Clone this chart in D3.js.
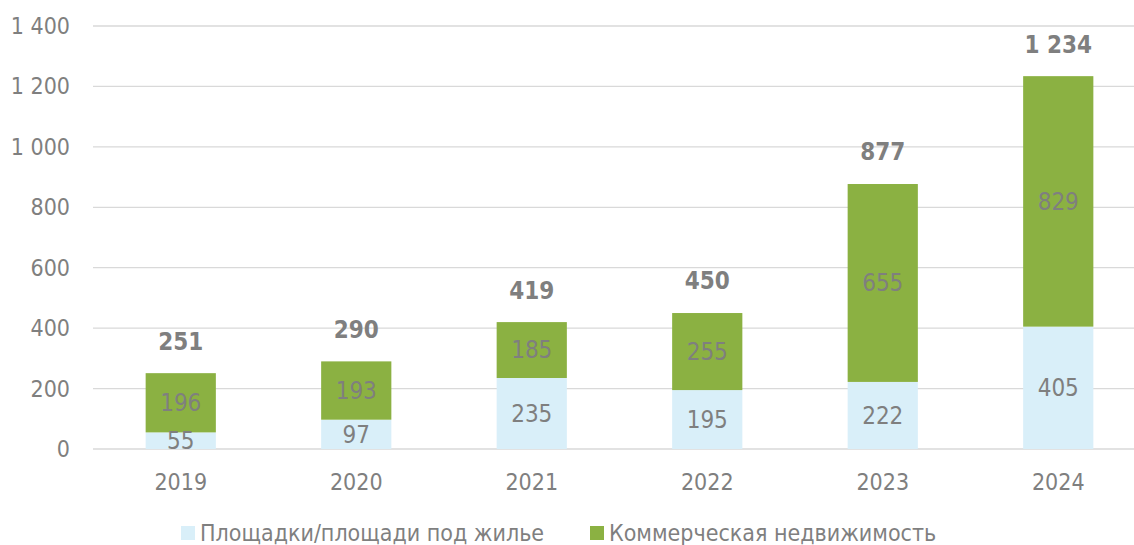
<!DOCTYPE html>
<html>
<head>
<meta charset="utf-8">
<script src="https://cdn.jsdelivr.net/npm/d3@7"></script>
<style>
  html, body { margin: 0; padding: 0; background: #ffffff; }
  svg text { font-family: "DejaVu Sans Condensed", "DejaVu Sans", sans-serif; font-stretch: condensed; }
</style>
</head>
<body>
<svg id="chart" width="1134" height="545"></svg>
<script>
const years = ["2019", "2020", "2021", "2022", "2023", "2024"];
const housing = [55, 97, 235, 195, 222, 405];
const commercial = [196, 193, 185, 255, 655, 829];
const totals = [251, 290, 419, 450, 877, 1234];
const yTicks = [0, 200, 400, 600, 800, 1000, 1200, 1400];
const seriesNames = ["Площадки/площади под жилье", "Коммерческая недвижимость"];
const seriesColors = ["#d9eff9", "#8bb142"];

const svg = d3.select("#chart");
const fmt = v => d3.format(",")(v).replace(/,/g, " ");
const textColor = "#7f7f7f";

const x = d3.scaleBand().domain(years).range([93, 1146]).paddingInner(0.6).paddingOuter(0.3);
const y = d3.scaleLinear().domain([0, 1400]).range([449, 26]);

// gridlines
svg.append("g").selectAll("line").data(yTicks).join("line")
  .attr("x1", 93).attr("x2", 1134)
  .attr("y1", d => y(d)).attr("y2", d => y(d))
  .attr("stroke", "#d9d9d9").attr("stroke-width", 1.3);

// y tick labels
svg.append("g").selectAll("text").data(yTicks).join("text")
  .attr("x", 70).attr("y", d => y(d)).attr("dy", "0.35em")
  .attr("text-anchor", "end").attr("fill", textColor).attr("font-size", 23)
  .text(d => fmt(d));

const stacked = years.map((yr, i) => ({ yr, h: housing[i], c: commercial[i], t: totals[i] }));

// housing segment
svg.append("g").selectAll("rect").data(stacked).join("rect")
  .attr("x", d => x(d.yr)).attr("width", x.bandwidth())
  .attr("y", d => y(d.h)).attr("height", d => y(0) - y(d.h))
  .attr("fill", seriesColors[0]);

// commercial segment
svg.append("g").selectAll("rect").data(stacked).join("rect")
  .attr("x", d => x(d.yr)).attr("width", x.bandwidth())
  .attr("y", d => y(d.h + d.c)).attr("height", d => y(d.h) - y(d.h + d.c))
  .attr("fill", seriesColors[1]);

// segment value labels
const cx = d => x(d.yr) + x.bandwidth() / 2;
svg.append("g").selectAll("text").data(stacked).join("text")
  .attr("x", cx).attr("y", d => (y(0) + y(d.h)) / 2).attr("dy", "0.35em")
  .attr("text-anchor", "middle").attr("fill", textColor).attr("font-size", 24)
  .text(d => d.h);
svg.append("g").selectAll("text").data(stacked).join("text")
  .attr("x", cx).attr("y", d => (y(d.h) + y(d.h + d.c)) / 2).attr("dy", "0.35em")
  .attr("text-anchor", "middle").attr("fill", textColor).attr("font-size", 24)
  .text(d => d.c);

// totals above bars
svg.append("g").selectAll("text").data(stacked).join("text")
  .attr("x", cx).attr("y", d => y(d.t) - 32).attr("dy", "0.35em")
  .attr("text-anchor", "middle").attr("fill", textColor).attr("font-size", 24)
  .attr("font-weight", "bold")
  .text(d => fmt(d.t));

// category labels
svg.append("g").selectAll("text").data(years).join("text")
  .attr("x", d => x(d) + x.bandwidth() / 2).attr("y", 482).attr("dy", "0.35em")
  .attr("text-anchor", "middle").attr("fill", textColor).attr("font-size", 23)
  .text(d => d);

// legend
const legendX = [181, 590];
const lg = svg.append("g").selectAll("g").data(seriesNames).join("g")
  .attr("transform", (d, i) => `translate(${legendX[i]},533)`);
lg.append("rect").attr("x", 0).attr("y", -7).attr("width", 14).attr("height", 14)
  .attr("fill", (d, i) => seriesColors[i]);
lg.append("text").attr("x", 19).attr("y", 0).attr("dy", "0.35em")
  .attr("fill", textColor).attr("font-size", 23).text(d => d);
</script>
</body>
</html>
